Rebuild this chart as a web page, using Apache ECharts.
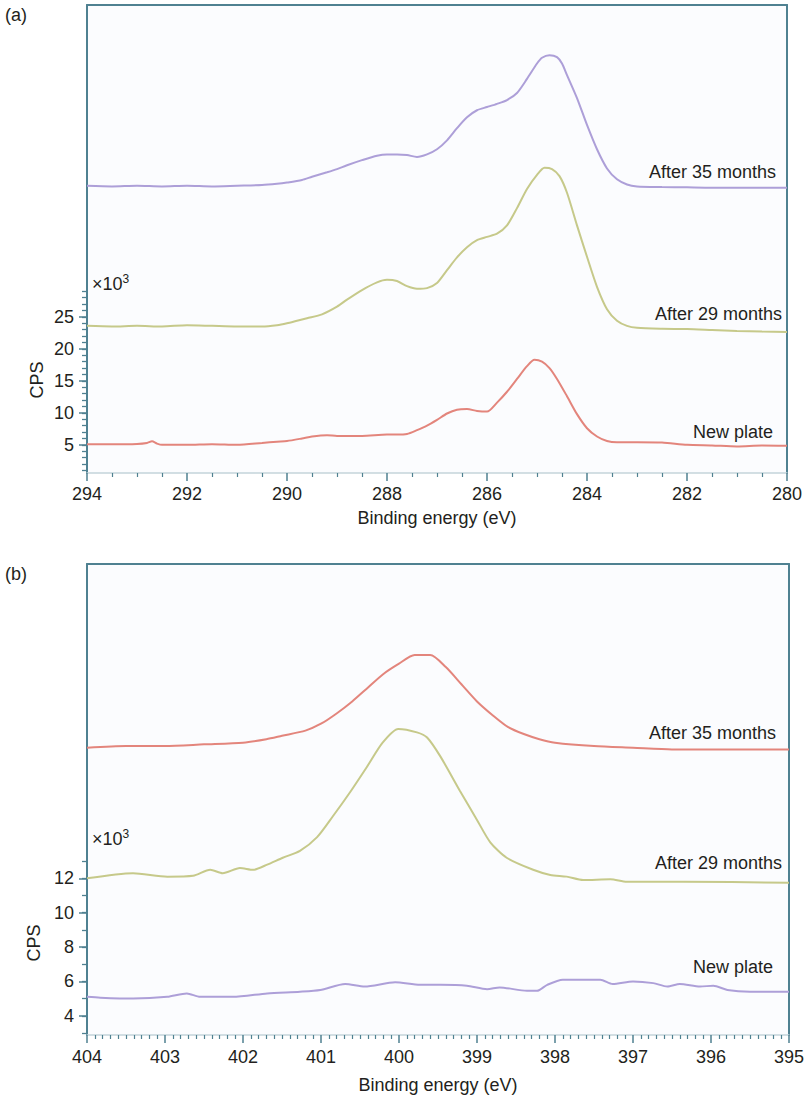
<!DOCTYPE html>
<html>
<head>
<meta charset="utf-8">
<script src="https://cdn.jsdelivr.net/npm/echarts@6/dist/echarts.min.js"></script>
<style>
html,body{margin:0;padding:0;background:#fff;}
#chart{width:810px;height:1110px;}
</style>
</head>
<body>
<div id="chart"></div>
<script>
// ---------- Panel (a): C 1s (binding energy eV, CPS x10^3) ----------
const c1sAfter35 = [[294,45.5],[293.5,45.4],[293,45.5],[292.5,45.4],[292,45.5],[291.5,45.4],[291,45.5],[290.5,45.6],[290.2,45.8],[290,46.0],[289.7,46.4],[289.5,46.9],[289.2,47.6],[289,48.1],[288.8,48.7],[288.5,49.5],[288.2,50.2],[288,50.4],[287.8,50.4],[287.6,50.3],[287.4,50.0],[287.2,50.4],[287,51.2],[286.8,52.6],[286.6,54.5],[286.4,56.2],[286.2,57.3],[286,57.8],[285.8,58.3],[285.6,58.9],[285.4,60.0],[285.2,62.2],[285,64.6],[284.9,65.5],[284.75,65.9],[284.6,65.6],[284.5,64.6],[284.4,62.8],[284.2,59.2],[284,55.0],[283.8,51.2],[283.6,48.2],[283.4,46.5],[283.2,45.7],[283,45.4],[282.5,45.3],[282,45.25],[281.5,45.2],[281,45.2],[280.5,45.2],[280,45.2]];
const c1sAfter29 = [[294,23.6],[293.5,23.5],[293,23.6],[292.5,23.5],[292,23.7],[291.5,23.6],[291,23.5],[290.5,23.5],[290.2,23.7],[290,24.0],[289.8,24.4],[289.6,24.8],[289.3,25.4],[289,26.6],[288.8,27.7],[288.5,29.2],[288.2,30.4],[288,30.8],[287.8,30.6],[287.6,29.8],[287.4,29.4],[287.2,29.5],[287,30.3],[286.8,32.3],[286.6,34.3],[286.4,35.9],[286.2,37.0],[286,37.5],[285.8,38.0],[285.6,39.3],[285.4,42.0],[285.2,45.0],[285,47.2],[284.85,48.3],[284.7,48.1],[284.55,47.0],[284.4,44.4],[284.2,39.3],[284,34.4],[283.8,29.7],[283.6,26.2],[283.4,24.4],[283.2,23.6],[283,23.3],[282.5,23.15],[282,23.1],[281.5,22.95],[281,22.8],[280.5,22.7],[280,22.65]];
const c1sNew = [[294,5.1],[293.5,5.1],[293,5.15],[292.8,5.3],[292.7,5.55],[292.6,5.2],[292.5,5.0],[292,5.0],[291.5,5.1],[291,5.0],[290.5,5.3],[290.2,5.5],[290,5.6],[289.7,6.0],[289.5,6.3],[289.2,6.5],[289,6.4],[288.5,6.4],[288,6.6],[287.8,6.6],[287.6,6.7],[287.4,7.3],[287.2,8.0],[287,8.9],[286.8,9.9],[286.6,10.5],[286.4,10.6],[286.2,10.3],[286,10.2],[285.8,11.6],[285.6,13.3],[285.4,15.3],[285.2,17.3],[285.05,18.3],[284.9,18.0],[284.75,17.0],[284.6,15.3],[284.4,12.6],[284.2,9.8],[284,7.6],[283.8,6.3],[283.6,5.6],[283.4,5.4],[283,5.4],[282.5,5.35],[282,5.0],[281.5,4.9],[281,4.75],[280.5,4.9],[280,4.85]];

// ---------- Panel (b): N 1s ----------
const n1sAfter35 = [[404,19.6],[403.5,19.7],[403,19.7],[402.5,19.8],[402,19.9],[401.7,20.1],[401.5,20.3],[401.2,20.6],[401,21.0],[400.8,21.6],[400.6,22.3],[400.4,23.1],[400.2,23.9],[400,24.5],[399.8,25.0],[399.6,25.0],[399.4,24.3],[399.2,23.3],[399,22.3],[398.8,21.5],[398.6,20.8],[398.4,20.4],[398.2,20.1],[398,19.9],[397.5,19.7],[397,19.6],[396.5,19.5],[396,19.5],[395.5,19.5],[395,19.5]];
const n1sAfter29 = [[404,12.0],[403.41,12.3],[402.97,12.1],[402.64,12.15],[402.42,12.5],[402.26,12.3],[402.04,12.6],[401.87,12.5],[401.69,12.8],[401.49,13.2],[401.27,13.6],[401.05,14.4],[400.85,15.6],[400.63,17.0],[400.41,18.5],[400.21,19.9],[400.01,20.7],[399.77,20.5],[399.64,20.2],[399.47,19.1],[399.22,17.1],[399.0,15.4],[398.83,14.1],[398.62,13.2],[398.28,12.5],[398.06,12.2],[397.85,12.1],[397.64,11.9],[397.29,11.95],[397.08,11.8],[396.36,11.8],[395,11.75]];
const n1sNew = [[404,5.1],[403.83,5.05],[403.41,5.0],[402.97,5.1],[402.72,5.3],[402.55,5.1],[402.13,5.1],[401.69,5.3],[401.27,5.4],[401.01,5.5],[400.69,5.85],[400.44,5.7],[400.05,5.95],[399.73,5.8],[399.47,5.8],[399.13,5.75],[398.87,5.55],[398.71,5.65],[398.36,5.45],[398.23,5.45],[398.1,5.8],[397.9,6.1],[397.42,6.1],[397.26,5.85],[397.0,6.0],[396.74,5.9],[396.56,5.7],[396.4,5.85],[396.14,5.7],[395.97,5.75],[395.79,5.5],[395.5,5.4],[395,5.4]];

// ticks / labels
const aYLabels = [5,10,15,20,25];
const aYMinor = [1,2,3,4,5,6,7,8,9,10,11,12,13,14,15,16,17,18,19,20,21,22,23,24,25,26,27,28,29];
const bYLabels = [4,6,8,10,12];
const bYMinor = [3,4,5,6,7,8,9,10,11,12,13];

const TEAL = '#4f8191';
const PURPLE = '#ad9fd8';
const KHAKI = '#c6c98a';
const SALMON = '#e3857c';
const TXT = '#231f20';
const FONT = 'Liberation Sans, Arial, Helvetica, sans-serif';
const FS = 18;

function frameX(gi, min, max){
  return {gridIndex: gi, type:'value', min, max, inverse:true, position:'top',
    axisLine:{show:true, onZero:false, lineStyle:{color:TEAL, width:2}},
    axisTick:{show:false}, axisLabel:{show:false}, splitLine:{show:false}};
}
function mainX(gi, min, max, interval, minorSplit, nameGap, labelMargin){
  return {gridIndex: gi, type:'value', min, max, interval, inverse:true, position:'bottom',
    axisLine:{show:true, onZero:false, lineStyle:{color:'#c4d4da', width:1.5}},
    axisTick:{show:true, length:8, lineStyle:{color:TEAL, width:1.5}},
    minorTick:{show:true, splitNumber:minorSplit, length:4, lineStyle:{color:TEAL, width:1.2}},
    axisLabel:{color:TXT, fontSize:FS, fontFamily:FONT, margin:labelMargin},
    splitLine:{show:false}, minorSplitLine:{show:false},
    name:'Binding energy (eV)', nameLocation:'middle', nameGap,
    nameTextStyle:{color:TXT, fontSize:FS, fontFamily:FONT}};
}
function mainY(gi, min, max, labels){
  return {gridIndex: gi, type:'value', min, max, position:'left',
    axisLine:{show:true, onZero:false, lineStyle:{color:TEAL, width:2}},
    axisTick:{show:true, length:8, customValues:labels, lineStyle:{color:TEAL, width:1.5}},
    axisLabel:{show:true, customValues:labels, color:TXT, fontSize:FS, fontFamily:FONT, margin:13},
    splitLine:{show:false}};
}
function minorY(gi, min, max, vals){
  return {gridIndex: gi, type:'value', min, max, position:'left',
    axisLine:{show:false},
    axisTick:{show:true, length:5, customValues:vals, lineStyle:{color:TEAL, width:1.3}},
    axisLabel:{show:false}, splitLine:{show:false}};
}
function frameY(gi, min, max){
  return {gridIndex: gi, type:'value', min, max, position:'right',
    axisLine:{show:true, onZero:false, lineStyle:{color:TEAL, width:2}},
    axisTick:{show:false}, axisLabel:{show:false}, splitLine:{show:false}};
}
function line(name, data, color, xi, yi){
  return {name, type:'line', data, xAxisIndex:xi, yAxisIndex:yi, showSymbol:false, symbol:'none',
    smooth:0.25,
    lineStyle:{color, width:2}, itemStyle:{color}, silent:true, animation:false};
}
function txt(x, y, text, align){
  return {type:'text', x, y, style:{text, fill:TXT, font:FS+'px '+FONT, textAlign:align||'right', textVerticalAlign:'middle'}};
}
function x10(x, y){
  return {type:'text', x, y, style:{rich:{n:{fontSize:FS, fontFamily:FONT, fill:TXT}, s:{fontSize:12, fontFamily:FONT, fill:TXT, verticalAlign:'bottom', padding:[0,0,10,0]}}, text:'{n|×10}{s|3}', textVerticalAlign:'middle', fill:TXT}};
}

const aMin = 0.6, aMax = 73.75, bMin = 2.88, bMax = 30.3;

const option = {
  backgroundColor:'#ffffff',
  animation:false,
  grid:[
    {left:87, top:5, width:700, height:468, show:true, backgroundColor:'#fbfcfe', borderWidth:0},
    {left:87, top:564, width:702, height:471, show:true, backgroundColor:'#fbfcfe', borderWidth:0}
  ],
  xAxis:[
    mainX(0, 280, 294, 2, 4, 36, 12),
    frameX(0, 280, 294),
    mainX(1, 395, 404, 1, 10, 41, 13),
    frameX(1, 395, 404)
  ],
  yAxis:[
    mainY(0, aMin, aMax, aYLabels),
    minorY(0, aMin, aMax, aYMinor),
    frameY(0, aMin, aMax),
    mainY(1, bMin, bMax, bYLabels),
    minorY(1, bMin, bMax, bYMinor),
    frameY(1, bMin, bMax)
  ],
  series:[
    line('After 35 months', c1sAfter35, PURPLE, 0, 0),
    line('After 29 months', c1sAfter29, KHAKI, 0, 0),
    line('New plate', c1sNew, SALMON, 0, 0),
    line('After 35 months', n1sAfter35, SALMON, 2, 3),
    line('After 29 months', n1sAfter29, KHAKI, 2, 3),
    line('New plate', n1sNew, PURPLE, 2, 3)
  ],
  graphic:[
    txt(5, 15, '(a)', 'left'),
    txt(5, 574, '(b)', 'left'),
    x10(92, 284),
    x10(92, 839),
    {type:'text', x:37, y:380, rotation:Math.PI/2, style:{text:'CPS', fill:TXT, font:FS+'px '+FONT, textAlign:'center', textVerticalAlign:'middle'}},
    {type:'text', x:34, y:943, rotation:Math.PI/2, style:{text:'CPS', fill:TXT, font:FS+'px '+FONT, textAlign:'center', textVerticalAlign:'middle'}},
    txt(776, 172, 'After 35 months'),
    txt(782, 314, 'After 29 months'),
    txt(773, 432, 'New plate'),
    txt(776, 733, 'After 35 months'),
    txt(782, 863, 'After 29 months'),
    txt(773, 967, 'New plate')
  ]
};

const chart = echarts.init(document.getElementById('chart'), null, {renderer:'svg'});
chart.setOption(option);
</script>
</body>
</html>
